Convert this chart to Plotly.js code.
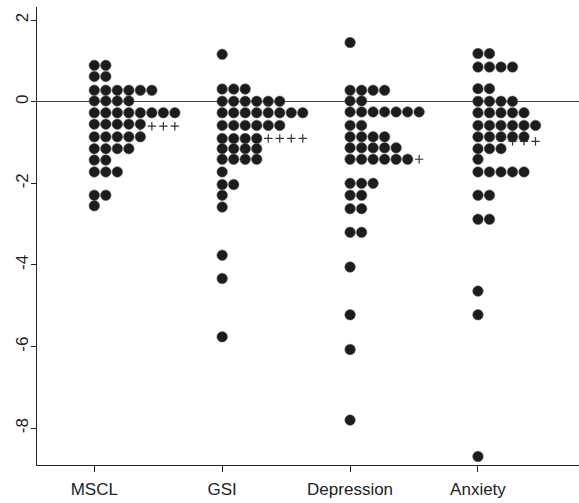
<!DOCTYPE html>
<html>
<head>
<meta charset="utf-8">
<script src="https://cdn.plot.ly/plotly-3.0.1.min.js"></script>
<style>html,body{margin:0;padding:0;background:#fff;}#chart{width:579px;height:503px;}</style>
</head>
<body>
<div id="chart"></div>
<script>
// Categories
var categories = ["MSCL", "GSI", "Depression", "Anxiety"];

// Stacked dot rows: value level and number of dots in that row
var msclLevels = [0.89, 0.62, 0.28, 0.02, -0.27, -0.55, -0.86, -1.15, -1.43, -1.72, -2.29, -2.55];
var msclCounts = [2, 2, 6, 4, 8, 5, 5, 4, 2, 3, 2, 1];

var gsiLevels = [1.16, 0.31, 0.01, -0.27, -0.58, -0.90, -1.15, -1.41, -1.72, -2.03, -2.29, -2.58, -3.76, -4.33, -5.76];
var gsiCounts = [1, 3, 6, 8, 6, 4, 4, 4, 1, 2, 1, 1, 1, 1, 1];

var depLevels = [1.45, 0.28, 0.02, -0.25, -0.58, -0.86, -1.13, -1.41, -2.0, -2.29, -2.62, -3.2, -4.05, -5.22, -6.07, -7.8];
var depCounts = [1, 4, 2, 7, 2, 4, 5, 6, 3, 2, 2, 2, 1, 1, 1, 1];

var anxLevels = [1.18, 0.85, 0.32, 0.01, -0.27, -0.58, -0.86, -1.15, -1.41, -1.72, -2.29, -2.88, -4.64, -5.22, -8.69];
var anxCounts = [2, 4, 2, 4, 5, 6, 5, 3, 1, 5, 2, 2, 1, 1, 1];

// Overflow "+" marks: level, first column, count
var plusLevels = [-0.60, -0.90, -1.41, -0.97];
var plusStartCol = [4, 4, 6, 3];
var plusCounts = [4, 4, 1, 3];

var levelSets = [msclLevels, gsiLevels, depLevels, anxLevels];
var countSets = [msclCounts, gsiCounts, depCounts, anxCounts];
var colStep = 0.09;

var dx = [], dy = [];
for (var g = 0; g < categories.length; g++) {
  var L = levelSets[g], C = countSets[g];
  for (var i = 0; i < L.length; i++) {
    for (var k = 0; k < C[i]; k++) { dx.push(g + 1 + k * colStep); dy.push(L[i]); }
  }
}
var px = [], py = [];
for (var g = 0; g < categories.length; g++) {
  for (var k = 0; k < plusCounts[g]; k++) { px.push(g + 1 + (plusStartCol[g] + k) * colStep); py.push(plusLevels[g]); }
}

var traces = [
  {x: px, y: py, type: "scatter", mode: "markers", hoverinfo: "skip",
   marker: {symbol: "cross-thin", size: 6, line: {color: "#333", width: 1.2}}},
  {x: dx, y: dy, type: "scatter", mode: "markers", hoverinfo: "skip",
   marker: {symbol: "circle", size: 10.5, color: "#1c1c1c", line: {color: "#555", width: 0.6}}}
];

var layout = {
  width: 579, height: 503,
  margin: {l: 37, r: 0, t: 7, b: 38},
  paper_bgcolor: "#fff", plot_bgcolor: "#fff",
  showlegend: false,
  font: {family: "Liberation Sans, Arial, sans-serif", size: 17, color: "#222"},
  xaxis: {
    range: [0.552, 4.79], showgrid: false, zeroline: false,
    showline: true, linecolor: "#222", linewidth: 1, mirror: false,
    ticks: "outside", ticklen: 6, tickcolor: "#222", tickwidth: 1,
    tickvals: [1, 2, 3, 4], ticktext: categories,
    ticklabelstandoff: 3,
    tickfont: {size: 17, color: "#222"}
  },
  yaxis: {
    range: [-8.90, 2.32], showgrid: false,
    zeroline: true, zerolinecolor: "#444", zerolinewidth: 1,
    showline: true, linecolor: "#222", linewidth: 1,
    ticks: "outside", ticklen: 5, tickcolor: "#222", tickwidth: 1,
    tickvals: [-8, -6, -4, -2, 0, 2], ticktext: ["-8", "-6", "-4", "-2", "0", "2"],
    ticklabelstandoff: -4,
    tickangle: -90, tickfont: {size: 17, color: "#222"}
  }
};

Plotly.newPlot("chart", traces, layout, {staticPlot: true, displayModeBar: false});
</script>
</body>
</html>
